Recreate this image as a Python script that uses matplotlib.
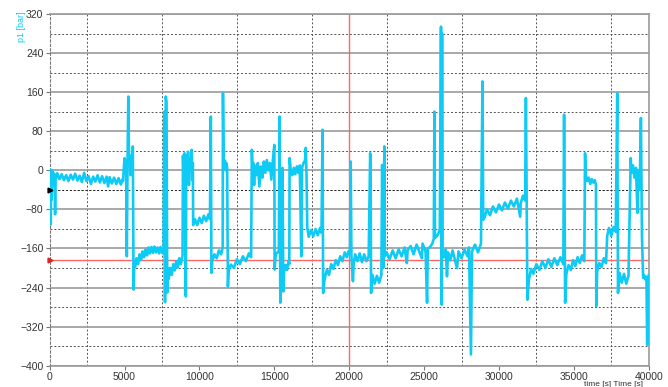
import matplotlib
matplotlib.use("Agg")
import matplotlib.pyplot as plt
from matplotlib.ticker import MultipleLocator

time_s = [
    0, 20, 40, 70, 100, 130, 160, 200, 240, 280, 320, 360, 400, 450,
    500, 650, 800, 950, 1100, 1250, 1400, 1550, 1700, 1850, 2000, 2150, 2300, 2450,
    2600, 2750, 2900, 3050, 3200, 3350, 3500, 3650, 3800, 3900, 4000, 4150, 4300,
    4450, 4600, 4750, 4850,
    4900, 4950, 5000, 5050, 5100, 5150, 5200, 5250, 5300, 5350, 5400, 5450, 5500,
    5550, 5600, 5650, 5700, 5800, 5900, 6000, 6100, 6200, 6300, 6400, 6500, 6600,
    6700, 6800, 6900, 7000, 7100, 7200, 7300, 7400, 7500,
    7600, 7650, 7700, 7750, 7800, 7850, 7900, 7950, 8050, 8150, 8250, 8350, 8450,
    8550, 8650, 8750, 8850,
    8870, 8900, 8950, 9000, 9030, 9060, 9090, 9120, 9180, 9240, 9300, 9360, 9420,
    9480, 9520, 9560,
    9580, 9700, 9850, 10000, 10150, 10300, 10450, 10600, 10700,
    10760, 10800, 10850, 11000, 11150, 11300, 11450, 11550,
    11570, 11620, 11700, 11750, 11800, 11850, 11900, 11950, 12100, 12300, 12500,
    12700, 12900, 13100, 13300, 13450,
    13500, 13550, 13600, 13650, 13700, 13800, 13900, 14000, 14100, 14200, 14300,
    14400, 14500, 14600, 14700, 14800, 14900,
    15000, 15020, 15100, 15200, 15300, 15350, 15400, 15450, 15500, 15550, 15600,
    15650, 15750, 15850, 15950, 16000,
    16020, 16100, 16200, 16300, 16400, 16500, 16600, 16700, 16800, 16850, 16950,
    17050, 17100, 17150,
    17200, 17300, 17450, 17600, 17750, 17900, 18050, 18150, 18220, 18260, 18350,
    18500, 18650, 18800, 18950, 19100, 19250, 19400, 19550, 19700, 19850, 19950,
    20050, 20100, 20150, 20250, 20300, 20400, 20550, 20700, 20850, 21000, 21150,
    21300, 21400, 21430, 21460, 21550, 21700, 21850, 22000, 22150, 22200, 22270,
    22350, 22380,
    22500, 22700, 22900, 23100, 23300, 23500, 23700, 23850, 23900, 24100, 24300,
    24500, 24700, 24850, 24900, 25100, 25200, 25250, 25400, 25550, 25650, 25690,
    25730, 25850, 25950, 26050, 26130, 26180, 26200, 26230, 26350, 26450, 26530,
    26600, 26750, 26900, 27050, 27200, 27300, 27500, 27700, 27900, 28000, 28130,
    28200, 28400, 28600, 28800, 28900, 28950, 29050, 29200, 29400, 29600, 29800,
    30000, 30200, 30400, 30600, 30800, 31000, 31200, 31420, 31450, 31600, 31750,
    31800, 31900, 32000, 32150, 32300, 32500, 32700, 32900, 33100, 33300, 33500,
    33700, 33900, 34100, 34300, 34350, 34420, 34500, 34650, 34800, 34950, 35100,
    35250, 35400, 35550, 35700, 35750, 35800, 35900, 36000, 36100, 36200, 36300,
    36400, 36480, 36500, 36560, 36700, 36850, 37000, 37150, 37230, 37350, 37500,
    37650, 37800, 37900, 37950, 38050, 38200, 38350, 38500, 38650, 38800, 38850,
    38950, 39050, 39150, 39250, 39300, 39400, 39480, 39550, 39630, 39700, 39800,
    39850, 39900, 39950, 40000,
]
p1_bar = [
    -5, -95, 2, -111, -20, -60, 0, -30, -5, -12, -8, -90, -10, -15,
    -6, -18, -8, -20, -10, -22, -9, -19, -7, -21, -11, -24, -5, -22,
    -12, -28, -13, -23, -10, -25, -12, -26, -13, -33, -14, -27, -15,
    -28, -16, -29, -19,
    -22, 5, 25, -5, 20, -176, 20, 151, 10, 30, -10, 30, 0,
    49, -244, -190, -198, -180, -192, -172, -184, -166, -178, -162, -174, -158,
    -170, -157, -169, -156, -168, -158, -170, -157, -169,
    -170, 120, -270, 151, 140, -250, -200, -222, -200, -214, -192, -205, -186,
    -199, -180, -192, -178,
    -175, 30, -20, 35, -40, 20, -258, 30, -10, 38, -30, 25, 5,
    42, -20, 15,
    -112, -100, -112, -97, -108, -93, -104, -90, -100,
    110, -210, -186, -172, -180, -164, -172, -158,
    158, 10, 20, 0, 15, 5, -238, -205, -193, -200, -182,
    -192, -176, -186, -170, -178,
    42, -5, 15, -30, 10, -10, 15, -33, 8, -15, 18,
    -5, 21, 0, 15, -19, 20,
    52, -203, -170, -169, -165, 110, -271, 0, -180, 5, -248,
    -208, -194, -204, -186, -192,
    25, 0, -10, 5, -8, 8, -5, 10, -176, 5, 15,
    20, 46, -10,
    -118, -136, -122, -135, -120, -133, -118, -128, 83, -251, -224,
    -204, -214, -192, -202, -184, -194, -176, -186, -168, -178, -166,
    -165, 18, -175, -227, -190, -172, -186, -170, -188, -172, -186,
    -176, 35, 20, -251, -214, -232, -216, -230, -214, 11, -200,
    49, -176,
    -168, -182, -164, -180, -162, -176, -158, -190, -164, -155, -172,
    -152, -168, -180, -150, -166, -271, -160, -157, -150, -140, 120,
    -138, -135, -130, -120, 294, -275, 280, -170, -178, -162, -217,
    -168, -184, -164, -182, -200, -166, -180, -162, -176, -158, -377,
    -166, -152, -168, -150, 182, -101, -96, -80, -92, -74, -86,
    -70, -82, -66, -78, -62, -74, -58, -95, -68, -52, -62,
    148, -265, -224, -202, -212, -192, -204, -186, -200, -182, -198,
    -180, -194, -178, -192, 114, -271, -212, -194, -204, -184, -196,
    -178, -190, -174, -186, 35, -10, -22, -15, -28, -18, -25,
    -20, -30, -278, -206, -190, -198, -180, -190, -134, -118, -134,
    -116, -126, 158, -251, -210, -230, -212, -232, -216, 25, -5,
    10, -15, 5, -87, 0, -40, 107, -135, -220, -215, -224,
    -218, -357, -220, -215,
]

y_ticks = list(range(-400, 321, 80))
x_ticks = list(range(0, 40001, 5000))
x_grid = [2500, 7500, 12500, 17500, 22500, 27500, 32500, 37500]

cursor_time = 20000
cursor_level = -184
marker_level = -40

plt.rcParams['font.family'] = ['Liberation Sans', 'DejaVu Sans']

fig = plt.figure(figsize=(6.68, 3.87), dpi=100)
ax = fig.add_axes([0.0744, 0.055, 0.8967, 0.9088])

ax.plot(time_s, p1_bar, color='#0ECBF5', lw=1.9, zorder=3)

# Cursor (rot) und Marker (schwarz)
ax.axvline(cursor_time, color='#FF6666', lw=1.0, zorder=2)
ax.axhline(cursor_level, color='#FF6666', lw=1.0, zorder=2)
ax.axhline(marker_level, color='#222222', lw=0.7, ls=(0, (2, 2)), zorder=1.5)
ax.plot([0], [cursor_level], marker='>', color='#E02020', ms=3.5, clip_on=False, zorder=4)
ax.plot([0], [marker_level], marker='>', color='black', ms=3.5, clip_on=False, zorder=4)

ax.set_xlim(0, 40000)
ax.set_ylim(-400, 320)
ax.set_yticks(y_ticks)
ax.set_xticks(x_ticks)
ax.yaxis.set_minor_locator(MultipleLocator(40))
ax.set_xticks(x_grid, minor=True)

ax.grid(which='major', axis='y', color='#999999', lw=1.2)
ax.grid(which='minor', axis='both', color='#555555', lw=0.7, ls=(0, (2, 2)))
ax.set_axisbelow(True)

ax.tick_params(which='major', labelsize=7.5, labelcolor='#333333', length=3,
               color='#777777', pad=1.5)
ax.tick_params(which='minor', length=0)

for side in ['top', 'bottom', 'right']:
    ax.spines[side].set_color('#999999')
    ax.spines[side].set_linewidth(1.2)
ax.spines['left'].set_color('#777777')
ax.spines['left'].set_linewidth(0.8)
ax.spines['left'].set_linestyle((0, (2, 2)))

fig.text(21 / 668, 1 - 27 / 387, 'p1 [bar]', color='#0ECBF5', fontsize=6.5,
         rotation=90, ha='center', va='center')
fig.text(643 / 668, 1 - 381 / 387, 'time [s] Time [s]', color='#333333',
         fontsize=6, ha='right', va='top')

fig.savefig('out.png', dpi=100)
